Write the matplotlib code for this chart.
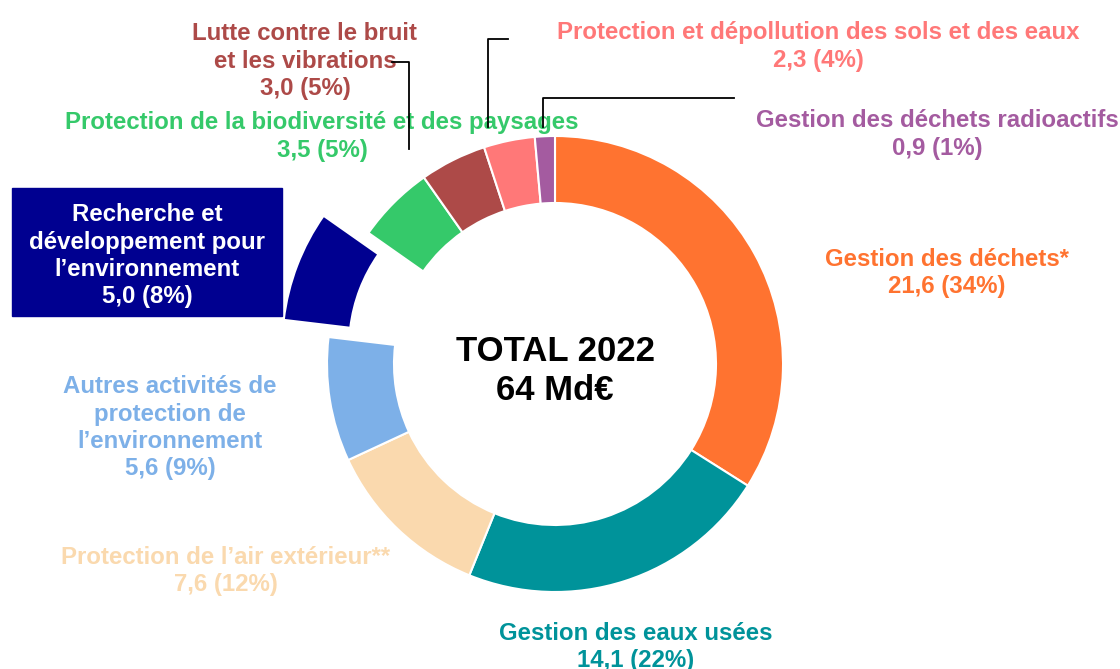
import matplotlib.pyplot as plt

# ------------------------------------------------------------------ #
#                              DATA                                  #
# ------------------------------------------------------------------ #
labels = [
    "Gestion des déchets*",
    "Gestion des eaux usées",
    "Protection de l’air extérieur**",
    "Autres activités de\nprotection de\nl’environnement",
    "Recherche et\ndéveloppement pour\nl’environnement",
    "Protection de la biodiversité et des paysages",
    "Lutte contre le bruit\net les vibrations",
    "Protection et dépollution des sols et des eaux",
    "Gestion des déchets radioactifs",
]
values = [21.6, 14.1, 7.6, 5.6, 5.0, 3.5, 3.0, 2.3, 0.9]
shares = [34, 22, 12, 9, 8, 5, 5, 4, 1]
colors = ["#FF7330", "#00939A", "#FAD9AE", "#7DB0E8", "#000090",
          "#35C96A", "#AD4A48", "#FF7878", "#A45BA0"]
total_label = "TOTAL 2022\n64 Md€"

# ------------------------------------------------------------------ #
#                              LAYOUT                                #
# ------------------------------------------------------------------ #
W, H = 1120, 669
CX, CY = 555, 364          # ring centre, pixels from top-left
R_OUT, RING = 228, 67
EXPLODE = [0, 0, 0, 0, 48, 0, 0, 0, 0]

# label centre x, y of first line's centre, pixels from top-left
label_pos = [(947, 258), (636, 632), (226, 556), (170, 385), (147, 213),
             (322, 121), (305, 32), (818, 31), (937, 119)]
TOP_SHIFT = 10

plt.rcParams['font.family'] = ['Liberation Sans', 'DejaVu Sans']

fig = plt.figure(figsize=(W / 100, H / 100), dpi=100)
ax = fig.add_axes([0, 0, 1, 1])

ax.pie(values, colors=colors, startangle=90, counterclock=False,
       center=(CX, H - CY), radius=R_OUT, explode=EXPLODE,
       wedgeprops=dict(width=RING, edgecolor="white", linewidth=1.5))

ax.set_xlim(0, W)
ax.set_ylim(0, H)
ax.set_aspect("equal")
ax.axis("off")

# box behind the R&D label
ax.add_patch(plt.Rectangle((12, H - 316), 270, 128, color=colors[4], zorder=1))

for lab, v, s, c, (x, y) in zip(labels, values, shares, colors, label_pos):
    txt = f"{lab}\n{v:.1f}".replace(".", ",") + f" ({s}%)"
    tc = "white" if c == colors[4] else c
    ax.text(x, H - y + TOP_SHIFT, txt, ha="center", va="top", color=tc,
            fontsize=17.3, fontweight="bold", linespacing=1.25, zorder=3)

ax.text(CX, H - 371, total_label, ha="center", va="center", color="black",
        fontsize=25, fontweight="bold", linespacing=1.2)

# leader lines (pixel coords from top-left)
lines = [
    ([392, 409, 409], [62, 62, 149]),
    ([508, 488, 488], [39, 39, 127]),
    ([734, 543, 543], [98, 98, 127]),
]
for xs, ys in lines:
    ax.plot(xs, [H - y for y in ys], color="black", lw=1.3, zorder=4)

fig.savefig("out.png", dpi=100)
